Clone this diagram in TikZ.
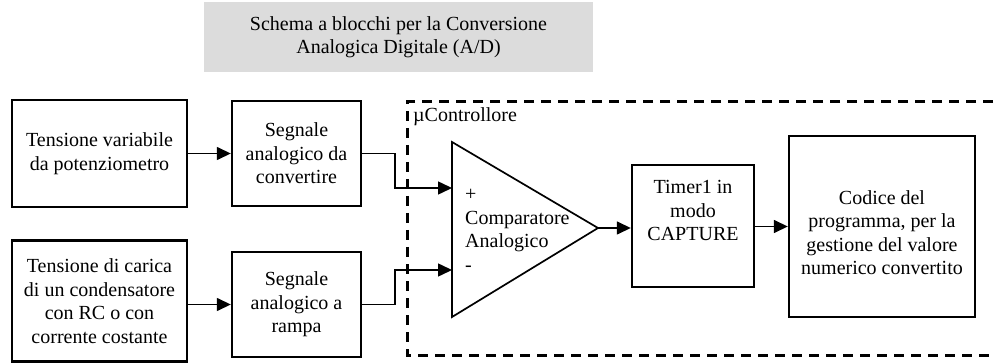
\documentclass[tikz,border=0pt]{standalone}
\usepackage{fontspec}
\setmainfont{Liberation Serif}
\usetikzlibrary{arrows.meta,calc}
\definecolor{titlegray}{RGB}{220,220,220}
\tikzset{
  blk/.style={draw, line width=2.4pt, align=center, inner sep=2pt,
    font=\fontsize{20}{23.5}\selectfont},
  txt/.style={inner sep=0pt, font=\fontsize{20}{23.5}\selectfont},
  conn/.style={line width=1.5pt, -{Triangle[length=14pt,width=13pt]}},
  dashbox/.style={line width=3pt, dash pattern=on 10pt off 7pt},
}
\begin{document}
\begin{tikzpicture}[x=1pt,y=-1pt]
\useasboundingbox (0,0) rectangle (995,363);
% title
\node[fill=titlegray, minimum width=389pt, minimum height=70pt, align=center,
      font=\fontsize{20}{23.5}\selectfont, inner sep=0pt] (title) at (398.5,37)
  {Schema a blocchi per la Conversione\\Analogica Digitale (A/D)};
% dashed microcontroller frame (open on the right)
\coordinate (dtr) at (993,102);
\coordinate (dtl) at (407,102);
\coordinate (dbl) at (407,355);
\coordinate (dbr) at (993,355);
\draw[dashbox] (dtr) -- (dtl) -- (dbl) -- (dbr);
\node[txt, anchor=west] (uc) at (413,117) {µControllore};
% blocks
\node[blk, minimum width=175pt, minimum height=107pt] (b1) at (99.5,153.5)
  {Tensione variabile\\da potenziometro};
\node[blk, minimum width=129pt, minimum height=105pt] (b2) at (296.5,153.5)
  {Segnale\\analogico da\\convertire};
\node[blk, minimum width=175pt, minimum height=121pt] (b3) at (99.5,301)
  {Tensione di carica\\di un condensatore\\con RC o con\\corrente costante};
\node[blk, minimum width=129pt, minimum height=105pt] (b4) at (296.5,304.5)
  {Segnale\\analogico a\\rampa};
\node[blk, minimum width=122pt, minimum height=122pt] (tim) at (693,226)
  {Timer1 in\\modo\\CAPTURE\\\strut};
\node[blk, minimum width=186pt, minimum height=181pt] (cod) at (882,226.5)
  {\strut\\[-14pt]Codice del\\programma, per la\\gestione del valore\\numerico convertito};
% comparator triangle
\coordinate (ta) at (452,142);
\coordinate (tb) at (452,317);
\coordinate (tip) at (598,228);
\coordinate (plus) at (452,188);
\coordinate (minus) at (452,270);
\draw[line width=1.7pt, line join=miter] (ta) -- (tip) -- (tb) -- cycle;
\node[txt, anchor=west, align=left] (cmp) at (465,230.5)
  {+\\Comparatore\\Analogico\\-};
% connectors
\draw[conn] (b1.east) -- (b2.west);
\draw[conn] (b4.west -| b3.east) -- (b4.west);
\draw[conn] (b2.east) -- ++(33,0) |- (plus);
\draw[conn] (b4.east) -- ++(33,0) |- (minus);
\draw[conn] (tip) -- (tip -| tim.west);
\draw[conn] (tim.east |- cod.west) -- (cod.west);
\end{tikzpicture}
\end{document}
